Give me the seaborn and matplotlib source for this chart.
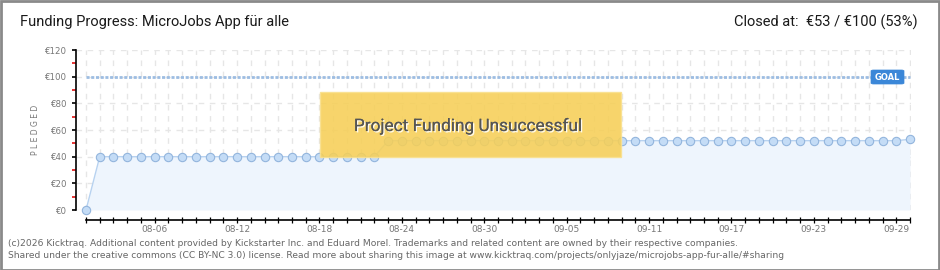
import numpy as np
import pandas as pd
import matplotlib
matplotlib.use("Agg")
import matplotlib.pyplot as plt
import matplotlib.patheffects as pe
from matplotlib.patches import Rectangle, FancyBboxPatch
import seaborn as sns

# ---------------- data ----------------
title = "Funding Progress: MicroJobs App für alle"
closed_text = "Closed at:  €53 / €100 (53%)"
dates = list(pd.date_range("2016-08-01", "2016-09-30", freq="D").strftime("%m-%d"))
pledged = [0,
           40, 40, 40, 40, 40, 40, 40, 40, 40, 40,
           40, 40, 40, 40, 40, 40, 40, 40, 40, 40,
           40,
           52, 52, 52, 52, 52, 52, 52, 52, 52, 52,
           52, 52, 52, 52, 52, 52, 52, 52, 52, 52,
           52, 52, 52, 52, 52, 52, 52, 52, 52, 52,
           52, 52, 52, 52, 52, 52, 52, 52,
           53]
goal = 100
y_ticks = [0, 20, 40, 60, 80, 100, 120]
y_tick_labels = ["€0", "€20", "€40", "€60", "€80", "€100", "€120"]
x_label_dates = ["08-06", "08-12", "08-18", "08-24", "08-30",
                 "09-05", "09-11", "09-17", "09-23", "09-29"]
footer1 = ("(c)2026 Kicktraq. Additional content provided by Kickstarter Inc. and Eduard Morel. "
           "Trademarks and related content are owned by their respective companies.")
footer2 = ("Shared under the creative commons (CC BY-NC 3.0) license. Read more about sharing this image "
           "at www.kicktraq.com/projects/onlyjaze/microjobs-app-fur-alle/#sharing")
banner = "Project Funding Unsuccessful"

df = pd.DataFrame({"day": np.arange(len(dates)), "date": dates, "pledged": pledged})

# ---------------- figure ----------------
sns.set_style("white")
plt.rcParams["font.family"] = ["DejaVu Sans"]

W, H = 940, 270
fig = plt.figure(figsize=(W / 100, H / 100), dpi=100)
fig.patch.set_facecolor("white")

ax_l, ax_r, ax_t, ax_b = 76, 911, 50, 210
ax = fig.add_axes([ax_l / W, 1 - ax_b / H, (ax_r - ax_l) / W, (ax_b - ax_t) / H])
ax.set_facecolor("none")

px_per_day = (910 - 86) / 60.0
ax.set_xlim(-(86 - ax_l) / px_per_day, 60 + (ax_r - 910) / px_per_day)
ax.set_ylim(0, 120)

# grid
for d in df["day"]:
    ax.axvline(d, color="#e6e6e6", lw=1, ls=(0, (4, 4)), zorder=0)
for yv in y_ticks:
    ax.axhline(yv, color="#e6e6e6", lw=1, ls=(0, (4, 4)), zorder=0)

# fill under the line
ax.fill_between(df["day"], df["pledged"], 0, color="#eef5fd", zorder=1, lw=0)

# goal line
ax.plot([df["day"].iloc[0], df["day"].iloc[-1]], [goal, goal], color="#9dbde2",
        lw=2.0, ls=(0, (1.1, 0.6)), zorder=2, solid_capstyle="butt")

# pledged line with markers
sns.lineplot(data=df, x="day", y="pledged", ax=ax, color="#b7d2f0", lw=1.0,
             marker="o", markersize=6, markerfacecolor="#c4dcf6",
             markeredgecolor="#93b5dd", markeredgewidth=0.8, zorder=3,
             clip_on=False)

# GOAL tag
gx0, gx1, gy0, gy1 = 871, 904, 70, 84
goal_box = FancyBboxPatch(((gx0) / W, 1 - gy1 / H), (gx1 - gx0) / W, (gy1 - gy0) / H,
                          boxstyle="round,pad=0,rounding_size=0.003",
                          transform=fig.transFigure, facecolor="#3b87d8",
                          edgecolor="#3b87d8", lw=0.5, zorder=5)
fig.patches.append(goal_box)
fig.text((gx0 + gx1) / 2 / W, 1 - (gy0 + gy1) / 2 / H, "GOAL", color="white",
         fontsize=6, fontweight="bold", ha="center", va="center", zorder=6)

# spines and ticks
sns.despine(ax=ax, top=True, right=True)
ax.spines["left"].set_visible(True)
ax.spines["left"].set_color("black")
ax.spines["left"].set_linewidth(1.2)
ax.spines["bottom"].set_visible(True)
ax.spines["bottom"].set_position(("outward", 7.2))
ax.spines["bottom"].set_color("black")
ax.spines["bottom"].set_linewidth(1.2)
ax.spines["left"].set_bounds(0, 120)
ax.spines["bottom"].set_bounds(0, 60)

ax.set_yticks(y_ticks)
ax.set_yticklabels(y_tick_labels)
ax.set_yticks([10, 30, 50, 70, 90, 110], minor=True)
ax.tick_params(axis="y", which="major", left=True, direction="out", length=3, width=1.2,
               color="black", labelsize=6.2, labelcolor="#777777", pad=4)
ax.tick_params(axis="y", which="minor", left=True, direction="out", length=3, width=1.2,
               color="#e01010")

ax.set_xticks(df["day"])
ax.set_xticklabels([d if d in x_label_dates else "" for d in dates])
ax.tick_params(axis="x", which="major", bottom=True, direction="inout", length=5, width=0.9,
               color="black", labelsize=6.5, labelcolor="#777777", pad=1)

ax.set_xlabel("")
ax.set_ylabel("")
fig.text(36 / W, 1 - 130 / H, "P L E D G E D", rotation=90, ha="center", va="center",
         fontsize=5.5, color="#777777")

# banner
bx0, bx1, by0, by1 = 320, 621, 92, 157
rect = Rectangle((bx0 / W, 1 - by1 / H), (bx1 - bx0) / W, (by1 - by0) / H,
                 transform=fig.transFigure, facecolor="#f6cf57", alpha=0.88,
                 edgecolor="#f9e08e", lw=1, zorder=10)
fig.patches.append(rect)
fig.text(468 / W, 1 - 126 / H, banner, ha="center", va="center", fontsize=12.4,
         family="Roboto", color="#555555", zorder=11,
         path_effects=[pe.withSimplePatchShadow(offset=(1, -1), shadow_rgbFace="white", alpha=0.9),
                       pe.Normal()])

# titles
fig.text(20 / W, 1 - 22 / H, title, ha="left", va="center", fontsize=10.5,
         family="Roboto", color="#1a1a1a")
fig.text(918 / W, 1 - 22 / H, closed_text, ha="right", va="center", fontsize=10.5,
         family="Roboto", color="#1a1a1a")

# footer
fig.text(8 / W, 1 - 243 / H, footer1, ha="left", va="center", fontsize=6.6, color="#666666")
fig.text(8 / W, 1 - 256 / H, footer2, ha="left", va="center", fontsize=6.6, color="#666666")

# outer frame
frame = Rectangle((0.5 / W, 0.5 / H), 1 - 1.5 / W, 1 - 1.5 / H, transform=fig.transFigure,
                  facecolor="none", edgecolor="#8a8a8a", lw=2, zorder=20)
fig.patches.append(frame)

fig.savefig("out.png", dpi=100)
